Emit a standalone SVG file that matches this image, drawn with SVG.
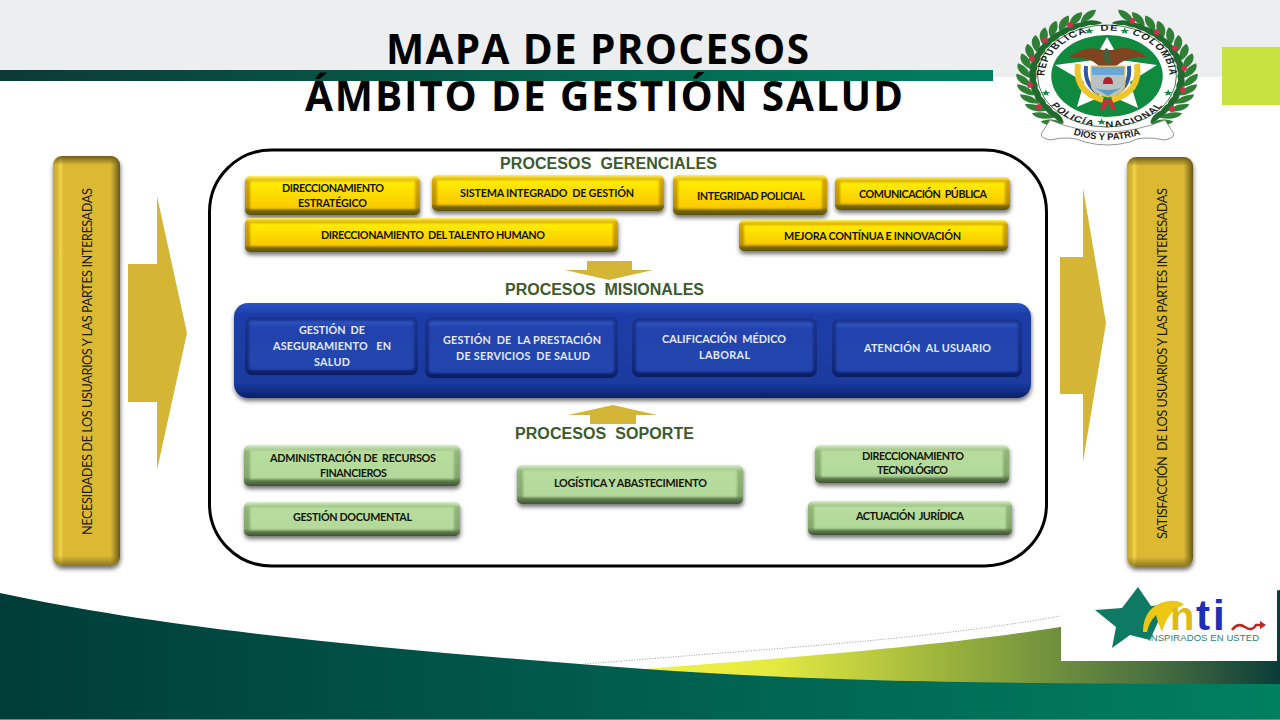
<svg xmlns="http://www.w3.org/2000/svg" width="1280" height="720" viewBox="0 0 1280 720">
<style>
text{white-space:pre}
.t{font-family:"Lato","Liberation Sans",sans-serif;font-weight:700;font-size:10.8px;fill:#141408}
.w{font-family:"Lato","Liberation Sans",sans-serif;font-weight:700;font-size:10.8px;fill:#e4eaf8}
.h{font-family:"Liberation Sans",Arial,sans-serif;font-weight:700;font-size:16px;fill:#3d5a2c}
.title{font-family:"Open Sans",sans-serif;font-weight:700;font-size:40.500px;fill:#000}
.side{font-family:"Lato","Liberation Sans",sans-serif;font-size:12.800px;fill:#1a1a10}
.ey{fill:url(#yo)}.fy{fill:url(#yf)}
.eb{fill:url(#bo)}.fb{fill:url(#bf)}.en{fill:url(#bn)}
.eg{fill:url(#go)}.fg{fill:url(#gf)}
.sh{filter:url(#ds)}
.soft{filter:url(#sf)}
.gold{fill:#d4b536}
.etxt{font-family:"Liberation Sans",sans-serif;font-weight:700;fill:#1d1d1d}
</style>
<defs>
<filter id="ds" x="-10%" y="-20%" width="120%" height="150%"><feDropShadow dx="0.5" dy="3" stdDeviation="2" flood-color="#000" flood-opacity=".55"/></filter>
<filter id="sf" x="-5%" y="-10%" width="110%" height="120%"><feGaussianBlur stdDeviation="1"/></filter>
<linearGradient id="yo" x1="0" y1="0" x2="0" y2="1"><stop offset="0" stop-color="#fff35a"/><stop offset=".14" stop-color="#d8a800"/><stop offset=".8" stop-color="#b89000"/><stop offset=".88" stop-color="#7c6a08"/><stop offset="1" stop-color="#5d5208"/></linearGradient>
<linearGradient id="yf" x1="0" y1="0" x2="0" y2="1"><stop offset="0" stop-color="#ffee00"/><stop offset="1" stop-color="#fbc800"/></linearGradient>
<linearGradient id="bo" x1="0" y1="0" x2="0" y2="1"><stop offset="0" stop-color="#2b52c6"/><stop offset=".12" stop-color="#1d3ea8"/><stop offset=".85" stop-color="#1a3a9f"/><stop offset="1" stop-color="#0c1e6a"/></linearGradient>
<linearGradient id="bn" x1="0" y1="0" x2="0" y2="1"><stop offset="0" stop-color="#1a358f"/><stop offset=".85" stop-color="#14297c"/><stop offset="1" stop-color="#0b1c60"/></linearGradient>
<linearGradient id="bf" x1="0" y1="0" x2="0" y2="1"><stop offset="0" stop-color="#3359c8"/><stop offset=".12" stop-color="#2243ad"/><stop offset="1" stop-color="#2145af"/></linearGradient>
<linearGradient id="go" x1="0" y1="0" x2="0" y2="1"><stop offset="0" stop-color="#d8efc6"/><stop offset=".16" stop-color="#93b77b"/><stop offset=".78" stop-color="#84a86c"/><stop offset=".88" stop-color="#5d7a4c"/><stop offset="1" stop-color="#3f5434"/></linearGradient>
<linearGradient id="gf" x1="0" y1="0" x2="0" y2="1"><stop offset="0" stop-color="#b8de9e"/><stop offset="1" stop-color="#b2d99a"/></linearGradient>
<linearGradient id="goldh" x1="0" y1="0" x2="1" y2="0"><stop offset="0" stop-color="#c9a92e"/><stop offset=".07" stop-color="#d9b733"/><stop offset=".11" stop-color="#f0d44c"/><stop offset=".16" stop-color="#dcb933"/><stop offset=".86" stop-color="#dcb933"/><stop offset=".92" stop-color="#a98f2a"/><stop offset="1" stop-color="#675615"/></linearGradient>
<linearGradient id="goldv" x1="0" y1="0" x2="0" y2="1"><stop offset="0" stop-color="#6d5c1c"/><stop offset=".022" stop-color="#6d5c1c" stop-opacity="0"/><stop offset=".975" stop-color="#8b7726" stop-opacity="0"/><stop offset="1" stop-color="#8b7726"/></linearGradient>
<linearGradient id="hb" x1="0" y1="0" x2="1" y2="0"><stop offset="0" stop-color="#0c3a36"/><stop offset=".6" stop-color="#046650"/><stop offset="1" stop-color="#00805f"/></linearGradient>
<linearGradient id="main" x1="0" y1="0" x2="1280" y2="0" gradientUnits="userSpaceOnUse"><stop offset="0" stop-color="#003c38"/><stop offset=".5" stop-color="#005e4e"/><stop offset="1" stop-color="#008060"/></linearGradient>
<linearGradient id="lime" x1="645" y1="0" x2="1280" y2="0" gradientUnits="userSpaceOnUse"><stop offset="0" stop-color="#f2f23f"/><stop offset=".2" stop-color="#e4ea40"/><stop offset=".55" stop-color="#87a43c"/><stop offset=".8" stop-color="#4a7040"/><stop offset="1" stop-color="#0a3c38"/></linearGradient>
<polygon id="st" points="0,-3.4 .9,-1.1 3.3,-1.1 1.4,.4 2.1,2.8 0,1.4 -2.1,2.8 -1.4,.4 -3.3,-1.1 -.9,-1.1"/>
<g id="sprig"><path d="M0,-57C-3,-63 -9,-67 -15,-65C-12,-59 -6,-56 0,-57Z" fill="#2f7f36"/><path d="M0,-57C-4,-52 -9,-50 -15,-51C-12,-56 -6,-58 0,-57Z" fill="#1f6a2c"/></g>
<g id="laurel">
<use href="#sprig" transform="rotate(20)"/><use href="#sprig" transform="rotate(29)"/><use href="#sprig" transform="rotate(38)"/><use href="#sprig" transform="rotate(47)"/><use href="#sprig" transform="rotate(56)"/><use href="#sprig" transform="rotate(65)"/><use href="#sprig" transform="rotate(74)"/><use href="#sprig" transform="rotate(83)"/><use href="#sprig" transform="rotate(92)"/><use href="#sprig" transform="rotate(101)"/><use href="#sprig" transform="rotate(110)"/><use href="#sprig" transform="rotate(119)"/><use href="#sprig" transform="rotate(128)"/><use href="#sprig" transform="rotate(137)"/><use href="#sprig" transform="rotate(146)"/>
</g>
<path id="arcT" d="M-44,14A46,46 0 1 1 44,14"/>
<path id="arcB" d="M-49.500,-6A50,50 0 1 0 49.500,-6"/>
<path id="arcD" d="M1062,130Q1107,150 1152,130"/>
</defs>

<rect width="1280" height="720" fill="#fff"/>
<rect width="1280" height="77" fill="#eceef0"/>
<rect x="0" y="70" width="993" height="11" fill="url(#hb)"/>
<rect x="1222" y="47" width="58" height="58" fill="#c8e33f"/>

<path d="M645,669C800,657 950,645 1060,627L1280,590V700H645Z" fill="url(#lime)"/>
<path d="M0,593C180,632 420,652 645,669C800,680 950,684 1280,684V719H0Z" fill="url(#main)"/>
<rect x="0" y="719" width="1280" height="1" fill="#4d9b7a"/>
<path d="M585,664C750,650 930,640 1060,616" fill="none" stroke="#9a9a9a" stroke-width="1" stroke-dasharray="1 1.6"/>

<text class="title" x="386" y="64" textLength="423">MAPA DE PROCESOS</text>
<text class="title" x="305" y="111" textLength="598">ÁMBITO DE GESTIÓN SALUD</text>

<g id="emblem">
<g transform="translate(1107,76) scale(1.36,1)">
<use href="#laurel"/>
<use href="#laurel" transform="scale(-1,1)"/>
<circle r="51" fill="#fff" stroke="#2d5a33" stroke-width=".7"/>
<circle r="41" fill="#0f8a3e"/>
<text class="etxt" font-size="8.400" letter-spacing=".9" text-anchor="middle"><textPath href="#arcT" startOffset="50%">REPUBLICA   DE   COLOMBIA</textPath></text>
<text class="etxt" font-size="8.200" letter-spacing=".8" text-anchor="middle"><textPath href="#arcB" startOffset="50%">POLICÍA   NACIONAL</textPath></text>
<use href="#st" fill="#0f8a3e" transform="translate(-13,-45)"/>
<use href="#st" fill="#0f8a3e" transform="translate(13,-45)"/>
<use href="#st" fill="#0f8a3e" transform="translate(-45,17)"/>
<use href="#st" fill="#0f8a3e" transform="translate(45,17)"/>
<use href="#st" fill="#0f8a3e" transform="translate(-4,46)"/>
</g>
<g fill="#c8344a"><circle cx="1070" cy="25" r="3"/><circle cx="1045" cy="40" r="3"/><circle cx="1032" cy="59" r="3"/><circle cx="1030" cy="85" r="3"/><circle cx="1039" cy="107" r="3"/><circle cx="1132" cy="21" r="3"/><circle cx="1157" cy="32" r="3"/><circle cx="1175" cy="48" r="3"/><circle cx="1184" cy="68" r="3"/><circle cx="1183" cy="90" r="3"/><circle cx="1172" cy="109" r="3"/></g>
<polygon points="1107,37 1120,60 1157,65 1130,82 1138,108 1107,94 1077,107 1084,82 1055,65 1094,60" fill="#fff"/>
<path d="M1068,58Q1085,44 1103,50L1112,50Q1130,44 1147,57Q1127,56 1116,66H1099Q1090,56 1068,58Z" fill="#80431f"/>
<path d="M1106,64Q1100,54 1106,48Q1112,50 1111,64Z" fill="#47603a"/>
<path d="M1078,64Q1074,92 1103,100" fill="none" stroke="#efc62a" stroke-width="6"/>
<path d="M1137,64Q1141,92 1112,100" fill="none" stroke="#efc62a" stroke-width="6"/>
<path d="M1086,66Q1084,86 1100,94" fill="none" stroke="#2f57a8" stroke-width="4"/>
<path d="M1129,66Q1131,86 1115,94" fill="none" stroke="#2f57a8" stroke-width="4"/>
<path d="M1091,66H1125V84Q1125,94 1108,97Q1091,94 1091,84Z" fill="#b9c4c2" stroke="#e7c43a" stroke-width="1"/>
<rect x="1092" y="67" width="32" height="8" fill="#6aa6d8"/>
<path d="M1103,84Q1103,77 1108,77Q1113,77 1113,84Z" fill="#b5202c"/>
<path d="M1095,88Q1108,92 1121,88L1108,96Z" fill="#5d9ac8"/>
<path d="M1104,100L1100,109H1105L1108,102L1111,109H1116L1112,100Z" fill="#c9303a"/>
<path d="M1050,120Q1107,144 1165,120L1172,131Q1178,137 1165,140Q1140,135 1130,142Q1107,148 1085,142Q1070,135 1050,140Q1037,137 1043,131Z" fill="#fff" stroke="#777" stroke-width=".8"/>
<text class="etxt" font-size="9.500" text-anchor="middle"><textPath href="#arcD" startOffset="50%">DIOS Y PATRIA</textPath></text>
</g>

<rect x="209.500" y="150" width="837" height="416" rx="62" fill="#fff" stroke="#000" stroke-width="3"/>

<g id="connectors">
<g class="gold">
<polygon points="128,264 157,264 157,196 187,333 157,470 157,402 128,402"/>
<polygon points="1060,257 1083,257 1083,188 1106,323 1083,462 1083,394 1060,394"/>
<polygon points="587,261 632,261 632,270 653,270 609,280 565,270 587,270"/>
<polygon points="613,405 657,415 636,415 636,424 590,424 590,415 568,415"/>
</g>
</g>

<g id="bar-left">
<rect class="sh" x="53" y="156" width="67" height="410" rx="9" fill="url(#goldh)"/>
<rect x="53" y="156" width="67" height="410" rx="9" fill="url(#goldv)"/>
<text class="side" transform="translate(92,535) rotate(-90)" textLength="347">NECESIDADES DE LOS USUARIOS Y LAS PARTES INTERESADAS</text>
</g>
<g id="bar-right">
<rect class="sh" x="1127" y="157" width="66" height="410" rx="9" fill="url(#goldh)"/>
<rect x="1127" y="157" width="66" height="410" rx="9" fill="url(#goldv)"/>
<text class="side" transform="translate(1167,539) rotate(-90)" textLength="351">SATISFACCIÓN  DE LOS USUARIOS Y LAS PARTES INTERESADAS</text>
</g>

<text class="h" x="500" y="169" textLength="217">PROCESOS  GERENCIALES</text>
<text class="h" x="505" y="295" textLength="199">PROCESOS  MISIONALES</text>
<text class="h" x="515" y="439" textLength="179">PROCESOS  SOPORTE</text>

<g id="y1"><rect class="ey sh" x="245" y="176" width="175" height="39" rx="5"/><rect class="fy soft" x="250" y="181" width="165" height="28"/><text class="t" x="282" y="192" textLength="102">DIRECCIONAMIENTO</text><text class="t" x="298" y="207" textLength="69">ESTRATÉGICO</text></g>
<g id="y2"><rect class="ey sh" x="432" y="175" width="232" height="36" rx="5"/><rect class="fy soft" x="437" y="180" width="222" height="25"/><text class="t" x="460" y="197" textLength="174">SISTEMA INTEGRADO  DE GESTIÓN</text></g>
<g id="y3"><rect class="ey sh" x="673" y="175" width="154" height="40" rx="5"/><rect class="fy soft" x="678" y="180" width="144" height="29"/><text class="t" x="697" y="200" textLength="108">INTEGRIDAD POLICIAL</text></g>
<g id="y4"><rect class="ey sh" x="835" y="177" width="175" height="33" rx="5"/><rect class="fy soft" x="840" y="182" width="165" height="22"/><text class="t" x="859" y="198" textLength="128">COMUNICACIÓN  PÚBLICA</text></g>
<g id="y5"><rect class="ey sh" x="245" y="218" width="373" height="34" rx="5"/><rect class="fy soft" x="250" y="223" width="363" height="23"/><text class="t" x="321" y="239" textLength="224">DIRECCIONAMIENTO  DEL TALENTO HUMANO</text></g>
<g id="y6"><rect class="ey sh" x="739" y="220" width="269" height="31" rx="5"/><rect class="fy soft" x="744" y="225" width="259" height="20"/><text class="t" x="784" y="240" textLength="177">MEJORA CONTÍNUA E INNOVACIÓN</text></g>

<g id="blue-band"><rect class="eb sh" x="234" y="303" width="797" height="95" rx="14"/></g>
<g id="b1"><rect class="en" x="245" y="317" width="173" height="58" rx="7"/><rect class="fb soft" x="249" y="321" width="165" height="49" rx="3"/><text class="w" x="299" y="334" textLength="66">GESTIÓN  DE</text><text class="w" x="273" y="350" textLength="118">ASEGURAMIENTO   EN</text><text class="w" x="314" y="366" textLength="36">SALUD</text></g>
<g id="b2"><rect class="en" x="425" y="317" width="193" height="61" rx="7"/><rect class="fb soft" x="429" y="321" width="185" height="52" rx="3"/><text class="w" x="443" y="344" textLength="158">GESTIÓN  DE  LA PRESTACIÓN</text><text class="w" x="456" y="360" textLength="134">DE SERVICIOS  DE SALUD</text></g>
<g id="b3"><rect class="en" x="632" y="318" width="185" height="59" rx="7"/><rect class="fb soft" x="636" y="322" width="177" height="50" rx="3"/><text class="w" x="662" y="343" textLength="124">CALIFICACIÓN  MÉDICO</text><text class="w" x="699" y="359" textLength="51">LABORAL</text></g>
<g id="b4"><rect class="en" x="832" y="319" width="190" height="58" rx="7"/><rect class="fb soft" x="836" y="323" width="182" height="49" rx="3"/><text class="w" x="864" y="352" textLength="127">ATENCIÓN  AL USUARIO</text></g>

<g id="g1"><rect class="eg sh" x="244" y="445" width="216" height="41" rx="5"/><rect class="fg soft" x="250" y="450" width="204" height="29"/><text class="t" x="270" y="462" textLength="166">ADMINISTRACIÓN DE  RECURSOS</text><text class="t" x="320" y="477" textLength="67">FINANCIEROS</text></g>
<g id="g2"><rect class="eg sh" x="244" y="502" width="216" height="34" rx="5"/><rect class="fg soft" x="250" y="507" width="204" height="23"/><text class="t" x="293" y="521" textLength="119">GESTIÓN DOCUMENTAL</text></g>
<g id="g3"><rect class="eg sh" x="517" y="465" width="226" height="39" rx="5"/><rect class="fg soft" x="523" y="470" width="214" height="27"/><text class="t" x="554" y="487" textLength="153">LOGÍSTICA Y ABASTECIMIENTO</text></g>
<g id="g4"><rect class="eg sh" x="815" y="445" width="194" height="38" rx="5"/><rect class="fg soft" x="821" y="450" width="182" height="27"/><text class="t" x="862" y="460" textLength="102">DIRECCIONAMIENTO</text><text class="t" x="877" y="474" textLength="71">TECNOLÓGICO</text></g>
<g id="g5"><rect class="eg sh" x="808" y="501" width="204" height="34" rx="5"/><rect class="fg soft" x="814" y="506" width="192" height="23"/><text class="t" x="856" y="520" textLength="108">ACTUACIÓN  JURÍDICA</text></g>

<g id="logo">
<rect x="1061" y="585" width="216" height="76" fill="#fff"/>
<polygon points="1138,587 1151,606 1162,605 1158,622 1150,640 1130,635 1112,648 1116,627 1095,610 1122,608" fill="#0f7a64"/>
<path d="M1143,632Q1143,606 1168,601Q1180,600 1184,605Q1168,610 1162,632Q1158,624 1156,615Q1149,622 1147,632Z" fill="#ecc814"/>
<text x="1170" y="630" font-family="Liberation Sans,sans-serif" font-weight="700" font-size="40" fill="#e0ba14">n</text>
<text x="1196" y="630" font-family="Liberation Sans,sans-serif" font-weight="700" font-size="42" letter-spacing="3" fill="#1c30b4">ti</text>
<path d="M1232,630Q1238,622 1245,627T1256,625H1262" fill="none" stroke="#c5221e" stroke-width="2.5"/>
<polygon points="1260,621 1266,625 1260,629" fill="#c5221e"/>
<text x="1148" y="641" font-family="Liberation Sans,sans-serif" font-size="9.500" fill="#2f7f6f" textLength="111">INSPIRADOS EN USTED</text>
</g>
</svg>
